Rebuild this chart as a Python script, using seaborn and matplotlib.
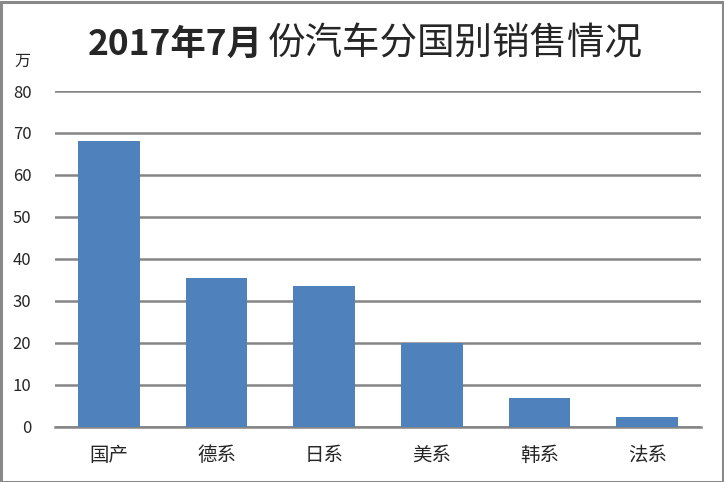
import matplotlib
matplotlib.use("Agg")
import matplotlib.pyplot as plt
import seaborn as sns
import pandas as pd
from matplotlib.patches import Rectangle

categories = ["国产", "德系", "日系", "美系", "韩系", "法系"]
sales = [68.1, 35.4, 33.5, 20.0, 6.8, 2.3]
yticks = [0, 10, 20, 30, 40, 50, 60, 70, 80]
title_bold = "2017年7月"
title_rest = "份汽车分国别销售情况"
unit_label = "万"

sns.set_theme(style="white")
plt.rcParams['font.family'] = ['Noto Sans CJK SC', 'DejaVu Sans']

df = pd.DataFrame({"cat": categories, "val": sales})

fig = plt.figure(figsize=(7.24, 4.82), dpi=100)
ax = fig.add_axes([55/724, 1-426.7/482, (701-55)/724, (426.7-91)/482])

sns.barplot(data=df, x="cat", y="val", color="#4F81BD", saturation=1,
            width=0.57, ax=ax, zorder=3, linewidth=0, edgecolor="none")

ax.set_ylim(0, 80)
ax.set_yticks(yticks)
ax.set_yticklabels([str(t) for t in yticks], fontsize=12)
ax.set_xlim(-0.5, len(categories)-0.5)
ax.grid(axis="y", color="#858585", linewidth=1.8, zorder=0)
ax.grid(axis="x", visible=False)
for s in ["top", "right", "left"]:
    ax.spines[s].set_visible(False)
ax.spines["bottom"].set_color("#858585")
ax.spines["bottom"].set_linewidth(1.8)
ax.tick_params(axis="both", length=0)
ax.tick_params(axis="y", pad=17)
ax.tick_params(axis="x", pad=13)
ax.set_xlabel("")
ax.set_ylabel("")
for lab in ax.get_xticklabels():
    lab.set_fontsize(14)

fig.text(22/724, 1-61/482, unit_label, fontsize=11.5, ha="center", va="center")

t1 = fig.text(88/724, 1-44/482, title_bold, fontsize=25.5, fontweight="bold",
              ha="left", va="center")
fig.canvas.draw()
bb = t1.get_window_extent(renderer=fig.canvas.get_renderer())
x2 = bb.x1 / fig.bbox.width + 5/724
fig.text(x2, 1-44/482, title_rest, fontsize=27, ha="left", va="center")

fig.patches.append(Rectangle((0.5/724, 0.5/482), 1-2/724, 1-2/482,
                             transform=fig.transFigure, fill=False,
                             edgecolor="#898989", linewidth=2.2))

fig.savefig("out.png", dpi=100)
